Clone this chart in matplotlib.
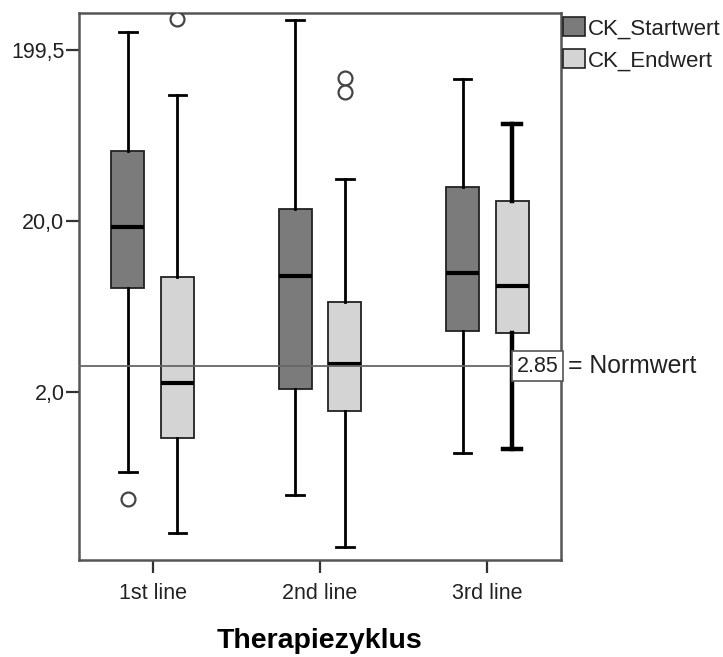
import matplotlib
matplotlib.use("Agg")
import matplotlib.pyplot as plt
import matplotlib.transforms as mtransforms
from matplotlib.patches import Patch

plt.rcParams['font.family'] = ['Liberation Sans', 'DejaVu Sans']

categories = ["1st line", "2nd line", "3rd line"]
series_names = ["CK_Startwert", "CK_Endwert"]

# CK_Startwert box statistics
start_whislo = [0.69, 0.50, 0.88]
start_q1 = [8.1, 2.10, 4.55]
start_med = [18.4, 9.6, 10.0]
start_q3 = [51.3, 23.4, 31.5]
start_whishi = [254.0, 300.0, 135.0]
start_outliers = [[0.48], [], []]

# CK_Endwert box statistics
end_whislo = [0.30, 0.25, 0.93]
end_q1 = [1.09, 1.55, 4.44]
end_med = [2.27, 2.94, 8.3]
end_q3 = [9.4, 6.75, 26.1]
end_whishi = [109.0, 35.0, 73.6]
end_outliers = [[304.0], [137.0, 114.0], []]

normwert = 2.85
ytick_vals = [2.0, 20.0, 199.5]
ytick_labels = ["2,0", "20,0", "199,5"]

colors = ["#7b7b7b", "#d4d4d4"]

fig = plt.figure(figsize=(7.23, 6.57), dpi=100)
ax = fig.add_axes([79/723, 1-560/657, (561-79)/723, (560-13)/657])

def stats(wlo, q1, med, q3, whi, fl):
    out = []
    for i in range(len(med)):
        out.append(dict(whislo=wlo[i], q1=q1[i], med=med[i], q3=q3[i], whishi=whi[i], fliers=fl[i]))
    return out

offset = 0.148
width = 0.198
series = [
    stats(start_whislo, start_q1, start_med, start_q3, start_whishi, start_outliers),
    stats(end_whislo, end_q1, end_med, end_q3, end_whishi, end_outliers),
]
for si, st in enumerate(series):
    pos = [i + (-offset if si == 0 else offset) for i in range(len(categories))]
    for i, s in enumerate(st):
        lw_wh = 2.0
        if si == 1 and i == 2:
            lw_wh = 3.2
        ax.bxp([s], positions=[pos[i]], widths=width, patch_artist=True,
               boxprops=dict(facecolor=colors[si], edgecolor="#222222", linewidth=1.3),
               medianprops=dict(color="black", linewidth=3),
               whiskerprops=dict(color="black", linewidth=lw_wh),
               capprops=dict(color="black", linewidth=lw_wh),
               capwidths=0.105,
               flierprops=dict(marker="o", markersize=10, markerfacecolor="white",
                               markeredgecolor="#444444", markeredgewidth=1.6),
               manage_ticks=False, zorder=3)

ax.set_yscale("log")
ax.set_ylim(0.21, 328)
ax.set_xlim(-0.44, 2.44)
ax.set_yticks(ytick_vals)
ax.set_yticklabels(ytick_labels)
ax.yaxis.set_minor_locator(matplotlib.ticker.NullLocator())
ax.set_xticks(range(len(categories)))
ax.set_xticklabels(categories)
ax.tick_params(axis="both", labelsize=15.5, colors="#333333", width=1.6, length=9.5, labelcolor="#222222")
ax.tick_params(axis="y", pad=1)
ax.tick_params(axis="x", pad=7)
for sp in ax.spines.values():
    sp.set_color("#555555")
    sp.set_linewidth(1.8)

ax.axhline(normwert, color="#666666", linewidth=1.3, zorder=4)
trans = mtransforms.blended_transform_factory(ax.transAxes, ax.transData)
ax.text(0.995, normwert, "2.85", transform=trans, ha="right", va="center",
        fontsize=15.5, color="#222222", zorder=6,
        bbox=dict(boxstyle="square,pad=0.22", facecolor="white", edgecolor="#555555", linewidth=1.2))
ax.text(1.015, normwert, "= Normwert", transform=trans, ha="left", va="center",
        fontsize=17.8, color="#222222", clip_on=False)

ax.set_xlabel("Therapiezyklus", fontsize=20.5, fontweight="bold", labelpad=17, color="black")

handles = [Patch(facecolor=c, edgecolor="#222222", linewidth=1.2) for c in colors]
fig.legend(handles, series_names, loc="upper left", bbox_to_anchor=(563/723, 1-17/657),
           frameon=False, fontsize=16, handlelength=1.0, handleheight=0.95,
           handletextpad=0.12, labelspacing=0.45, borderaxespad=0, borderpad=0,
           labelcolor="#222222")

fig.savefig("out.png", dpi=100)
